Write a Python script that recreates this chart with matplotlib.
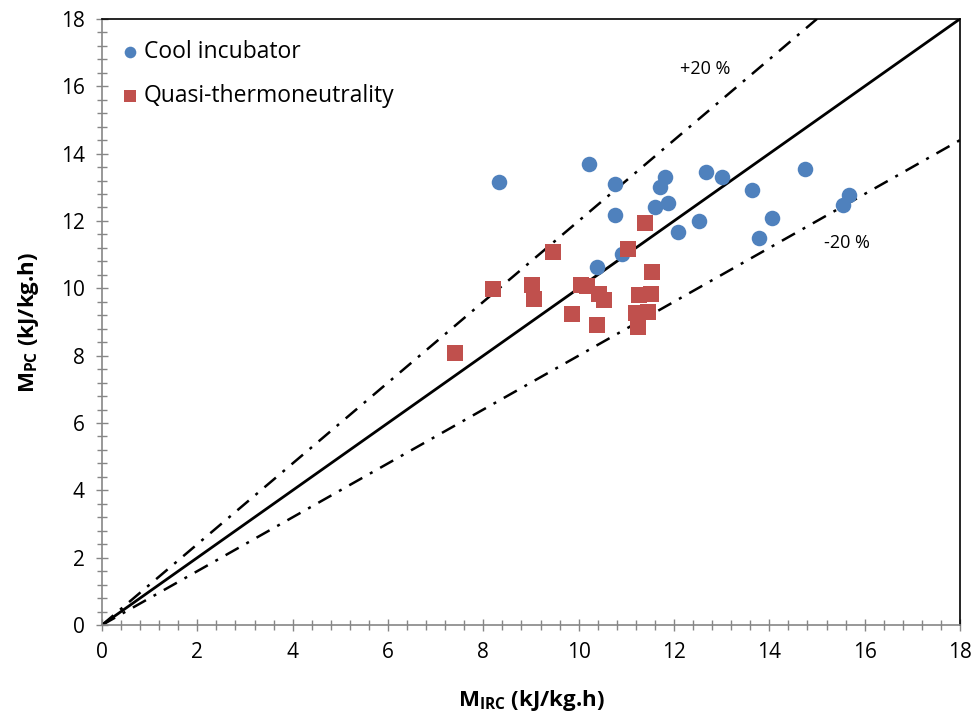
import numpy as np
import matplotlib
matplotlib.use('Agg')
import matplotlib.pyplot as plt
from matplotlib.ticker import MultipleLocator

plt.rcParams['font.family'] = ['Open Sans', 'DejaVu Sans']
plt.rcParams['mathtext.fontset'] = 'custom'
plt.rcParams['mathtext.rm'] = 'Open Sans'
plt.rcParams['mathtext.bf'] = 'Open Sans:bold'

# Cool incubator (M_IRC, M_PC)
cool_x = [8.33, 10.21, 10.76, 11.82, 11.71, 12.68, 13.01, 14.75, 13.63, 15.68,
          15.54, 11.61, 11.88, 10.76, 12.52, 14.06, 12.08, 13.78, 10.90, 10.38]
cool_y = [13.16, 13.69, 13.11, 13.32, 13.01, 13.45, 13.31, 13.55, 12.92, 12.77,
          12.47, 12.42, 12.52, 12.19, 12.01, 12.08, 11.68, 11.48, 11.02, 10.62]

# Quasi-thermoneutrality
quasi_x = [11.39, 9.46, 11.03, 8.20, 9.03, 9.07, 10.05, 10.18, 10.43, 10.54,
           9.85, 10.39, 11.54, 11.26, 11.51, 11.21, 11.45, 11.25, 7.40]
quasi_y = [11.94, 11.07, 11.17, 9.99, 10.09, 9.69, 10.11, 10.08, 9.84, 9.64,
           9.25, 8.90, 10.49, 9.80, 9.84, 9.28, 9.29, 8.86, 8.08]

blue = '#4F81BD'
red = '#C0504D'
grey = '#868686'

fig = plt.figure(figsize=(9.75, 7.19), dpi=100)
ax = fig.add_axes([0.1046, 0.1307, 0.88, 0.843])

# reference lines: 1:1 and +/-20 %
xx = np.array([0, 18])
ax.plot(xx, xx, color='black', lw=2, zorder=2)
ax.plot([0, 15], [0, 18], color='black', lw=1.8, dashes=(6, 3.5, 1.2, 3.5), zorder=2)
ax.plot(xx, 0.8 * xx, color='black', lw=1.8, dashes=(6, 3.5, 1.2, 3.5), zorder=2)

ax.scatter(cool_x, cool_y, s=125, color=blue, marker='o', lw=0, label='Cool incubator', zorder=3)
ax.scatter(quasi_x, quasi_y, s=130, color=red, marker='s', lw=0, label='Quasi-thermoneutrality', zorder=3)

ax.text(12.65, 16.5, '+20 %', fontsize=13, ha='center', va='center')
ax.text(15.63, 11.35, '-20 %', fontsize=13, ha='center', va='center')

ax.set_xlim(0, 18)
ax.set_ylim(0, 18)
ax.xaxis.set_major_locator(MultipleLocator(2))
ax.yaxis.set_major_locator(MultipleLocator(2))
ax.xaxis.set_minor_locator(MultipleLocator(0.4))
ax.yaxis.set_minor_locator(MultipleLocator(0.4))
ax.tick_params(which='major', direction='inout', length=9, width=1, color=grey, labelsize=15, pad=8)
ax.tick_params(which='minor', direction='inout', length=7, width=1, color=grey)
ax.tick_params(top=False, right=False, which='both')

for s in ['left', 'bottom']:
    ax.spines[s].set_color(grey)
    ax.spines[s].set_linewidth(1.2)
for s in ['top', 'right']:
    ax.spines[s].set_color('black')
    ax.spines[s].set_linewidth(1.2)

ax.set_xlabel(r'M$_{\mathbf{IRC}}$ (kJ/kg.h)', fontsize=16, fontweight='bold', labelpad=18)
ax.set_ylabel(r'M$_{\mathbf{PC}}$ (kJ/kg.h)', fontsize=16, fontweight='bold', labelpad=14)

leg = ax.legend(loc='upper left', frameon=False, fontsize=16.5, handletextpad=0.0,
                markerscale=0.75, borderaxespad=0.4, labelspacing=0.85, handlelength=1.2,
                bbox_to_anchor=(-0.005, 0.995))

fig.savefig('out.png', dpi=100)
